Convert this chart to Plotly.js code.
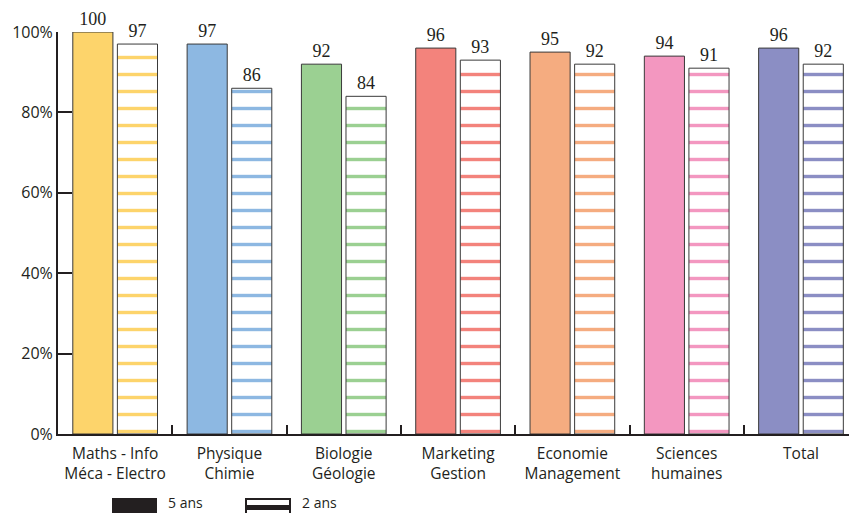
<!DOCTYPE html>
<html>
<head>
<meta charset="utf-8">
<script src="https://cdn.plot.ly/plotly-3.0.1.min.js"></script>
<style>
html,body{margin:0;padding:0;overflow:hidden;background:#fff;}
#chart{width:849px;height:513px;}
</style>
</head>
<body>
<div id="chart"></div>
<script>
const categories = ["Maths - Info<br>Méca - Electro", "Physique<br>Chimie", "Biologie<br>Géologie", "Marketing<br>Gestion", "Economie<br>Management", "Sciences<br>humaines", "Total"];
const values5ans = [100, 97, 92, 96, 95, 94, 96];
const values2ans = [97, 86, 84, 93, 92, 91, 92];
const barColors = ["#FDD46B", "#8DB8E2", "#9BD092", "#F3837C", "#F5AC80", "#F397C0", "#8B8EC4"];
const yTickVals = [0, 20, 40, 60, 80, 100];
const yTickText = ["0%", "20%", "40%", "60%", "80%", "100%"];
const legendNames = ["5 ans", "2 ans"];

const W = 849, H = 513;
const M = {l: 58, r: 0, t: 32, b: 79};
const pw = W - M.l - M.r, ph = H - M.t - M.b;
const px = v => (v - M.l) / pw;
const py = v => (H - M.b - v) / ph;
const ink = "#231f20";

const valueFont = {family: "Liberation Serif, serif", size: 18, color: ink};

const trace5 = {
  type: "bar", x: categories, y: values5ans, name: legendNames[0],
  marker: {color: barColors, line: {color: "#3a3a3a", width: 1}},
  text: values5ans.map(String), textposition: "outside", cliponaxis: false,
  textfont: valueFont, showlegend: false, hoverinfo: "x+y"
};
const trace2 = {
  type: "bar", x: categories, y: values2ans, name: legendNames[1],
  marker: {color: "white", line: {color: "#3a3a3a", width: 1},
    pattern: {shape: "-", fgcolor: barColors, bgcolor: "white", size: 17, solidity: 0.2, fillmode: "replace"}},
  text: values2ans.map(String), textposition: "outside", cliponaxis: false,
  textfont: valueFont, showlegend: false, hoverinfo: "x+y"
};

const xTickFont = {family: "Open Sans, sans-serif", size: 15.5, color: ink};
const yTickFont = {family: "Open Sans, sans-serif", size: 16, color: ink};
const legFont = {family: "Open Sans, sans-serif", size: 14, color: ink};

const layout = {
  width: W, height: H,
  margin: M,
  paper_bgcolor: "white", plot_bgcolor: "white",
  barmode: "group", bargap: 0.22, bargroupgap: 0.1,
  showlegend: false,
  xaxis: {
    type: "category", range: [-0.5, 6.42],
    showline: true, linecolor: ink, linewidth: 2,
    ticks: "inside", tickson: "boundaries", ticklen: 9, tickwidth: 2, tickcolor: ink,
    ticklabelstandoff: 4,
    showgrid: false, tickfont: xTickFont, fixedrange: true
  },
  yaxis: {
    range: [0, 100], tickvals: yTickVals, ticktext: yTickText,
    showline: true, linecolor: ink, linewidth: 2,
    ticks: "inside", ticklen: 14, tickwidth: 2, tickcolor: ink,
    showgrid: false, zeroline: false, tickfont: yTickFont, fixedrange: true
  },
  shapes: [
    {type: "rect", xref: "paper", yref: "paper", x0: px(112), x1: px(157), y0: py(498), y1: py(522),
      fillcolor: ink, line: {width: 0}},
    {type: "rect", xref: "paper", yref: "paper", x0: px(246), x1: px(290), y0: py(499), y1: py(522),
      fillcolor: "white", line: {color: ink, width: 2}},
    {type: "rect", xref: "paper", yref: "paper", x0: px(246), x1: px(290), y0: py(505), y1: py(510),
      fillcolor: ink, line: {width: 0}}
  ],
  annotations: [
    {xref: "paper", yref: "paper", x: px(167), y: py(513), text: legendNames[0], showarrow: false,
      xanchor: "left", yanchor: "bottom", font: legFont, borderpad: 0},
    {xref: "paper", yref: "paper", x: px(301), y: py(513), text: legendNames[1], showarrow: false,
      xanchor: "left", yanchor: "bottom", font: legFont, borderpad: 0}
  ]
};

Plotly.newPlot("chart", [trace5, trace2], layout, {staticPlot: true, displayModeBar: false});
</script>
</body>
</html>
